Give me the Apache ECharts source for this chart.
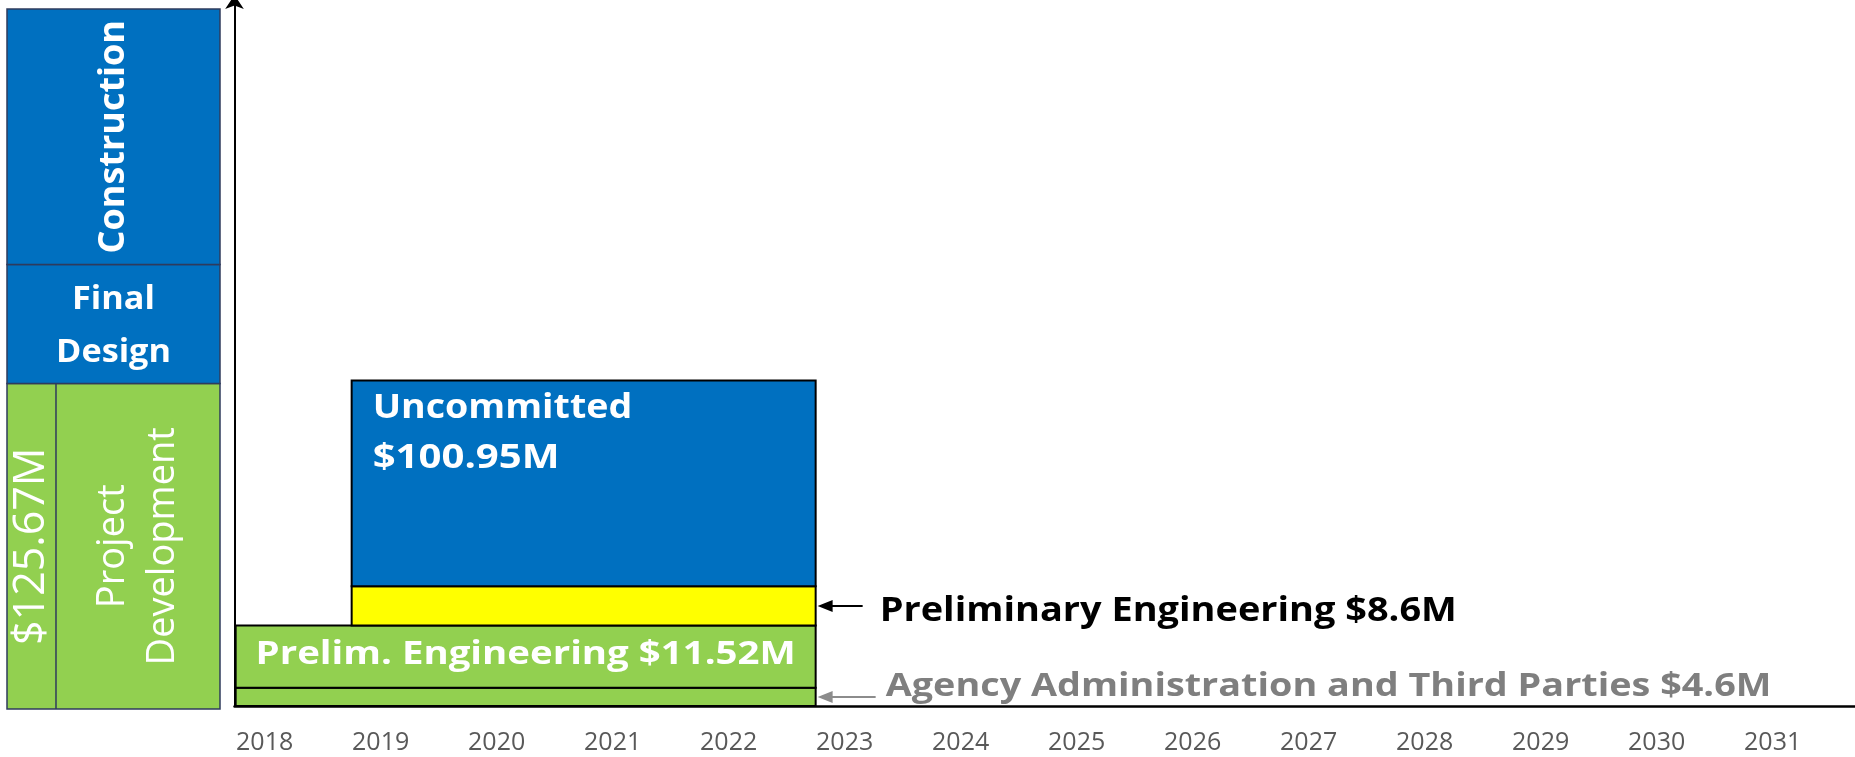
<!DOCTYPE html>
<html>
<head>
<meta charset="utf-8">
<title>Project funding timeline</title>
<script src="https://cdn.jsdelivr.net/npm/echarts@6/dist/echarts.min.js"></script>
<style>
  html, body { margin: 0; padding: 0; background: #fff; }
  #chart { width: 1855px; height: 757px; }
</style>
</head>
<body>
<div id="chart"></div>
<script>
// ---- data ----
const years = [2018, 2019, 2020, 2021, 2022, 2023, 2024, 2025, 2026, 2027, 2028, 2029, 2030, 2031];

// left phase bar (bottom to top), share of the bar height
const phaseNames = ['Project Development', 'Final Design', 'Construction'];
const phaseShares = [46.5, 17.0, 36.5];
const projectTotal = 125.67;

// funding blocks (bottom to top)
const segNames = ['Agency Administration and Third Parties', 'Prelim. Engineering', 'Preliminary Engineering', 'Uncommitted'];
const segAmounts = [4.6, 11.52, 8.6, 100.95];
const segStart = [2017.75, 2017.75, 2018.75, 2018.75];
const segEnd = [2022.75, 2022.75, 2022.75, 2022.75];
// drawn thickness of each block (the picture is schematic, not to $ scale)
const segThickness = [2.6, 8.9, 5.6, 29.4];

// ---- styles ----
const BLUE = '#0070C0', GREEN = '#92D050', YELLOW = '#FFFF00';
const segColors = [GREEN, GREEN, YELLOW, BLUE];
const phaseColors = [GREEN, BLUE, BLUE];
const FONT = '"Open Sans", "Noto Sans", sans-serif';

function txt(text, x, y, o) {
    return {
        type: 'text', x: x, y: y,
        rotation: o.rot || 0, scaleX: o.sx || 1, scaleY: o.sy || 1,
        style: {
            text: text, fill: o.fill || '#fff',
            fontSize: o.size, fontWeight: o.weight || 'bold', fontFamily: FONT,
            align: o.align || 'center', verticalAlign: 'middle',
            lineHeight: o.lh || o.size
        }
    };
}

// stack the blocks
let acc = 0;
const segData = segNames.map(function (n, i) {
    const b = acc;
    acc += segThickness[i];
    return [segStart[i], segEnd[i], b, acc];
});
let pacc = 0;
const phaseData = phaseNames.map(function (n, i) {
    const b = pacc;
    pacc += phaseShares[i];
    return [b, pacc];
});

// outside labels with arrows
const callout = {
    0: {fill: '#7F7F7F', arrow: '#8C8C8C', tail: 58, gap: 70, dy: -10, size: 33, sx: 1.145},
    2: {fill: '#000000', arrow: '#000000', tail: 45, gap: 64, dy: 5, size: 34, sx: 1.115}
};

function renderSegment(params, api) {
    const i = params.dataIndex;
    const p0 = api.coord([api.value(0), api.value(2)]);
    const p1 = api.coord([api.value(1), api.value(3)]);
    const x = p0[0], y = p1[1], w = p1[0] - p0[0], h = p0[1] - p1[1];
    const midY = y + h / 2;
    const amt = '$' + segAmounts[i] + 'M';
    const kids = [{
        type: 'rect', shape: {x: x, y: y, width: w, height: h},
        style: {fill: segColors[i], stroke: '#000', lineWidth: 2}
    }];
    if (i === 3) {
        kids.push(txt(segNames[i], x + 21, y + 28, {size: 34, align: 'left', sx: 1.105}));
        kids.push(txt(amt, x + 21, y + 78, {size: 34, align: 'left', sx: 1.18}));
    } else if (i === 1) {
        kids.push(txt(segNames[i] + ' ' + amt, x + w / 2, midY - 1.5, {size: 32, sx: 1.2}));
    } else {
        const c = callout[i];
        const tip = x + w + 2;
        kids.push({type: 'line', shape: {x1: tip + 10, y1: midY, x2: tip + c.tail, y2: midY},
            style: {stroke: c.arrow, lineWidth: 2}});
        kids.push({type: 'polygon', shape: {points: [[tip, midY], [tip + 15, midY - 6], [tip + 15, midY + 6]]},
            style: {fill: c.arrow}});
        kids.push(txt(segNames[i] + ' ' + amt, x + w + c.gap, midY + c.dy,
            {size: c.size, fill: c.fill, align: 'left', sx: c.sx}));
    }
    return {type: 'group', children: kids};
}

function renderPhase(params, api) {
    const i = params.dataIndex;
    const p0 = api.coord([0, api.value(0)]);
    const p1 = api.coord([1, api.value(1)]);
    const x = p0[0], y = p1[1], w = p1[0] - p0[0], h = p0[1] - p1[1];
    const cx = x + w / 2, cy = y + h / 2;
    const kids = [{
        type: 'rect', shape: {x: x, y: y, width: w, height: h},
        style: {fill: phaseColors[i], stroke: '#2F3B5C', lineWidth: 1.5}
    }];
    const name = phaseNames[i];
    if (i === 0) {
        const dx = api.coord([0.23, 0])[0];
        kids.push({type: 'line', shape: {x1: dx, y1: y, x2: dx, y2: y + h},
            style: {stroke: '#2F3B5C', lineWidth: 1.5}});
        kids.push(txt('$' + projectTotal + 'M', (x + dx) / 2, cy,
            {size: 43, weight: 'normal', rot: Math.PI / 2}));
        kids.push(txt(name.replace(' ', '\n'), (dx + x + w) / 2, cy,
            {size: 38, lh: 50, weight: 'normal', rot: Math.PI / 2}));
    } else if (i === 1) {
        kids.push(txt(name.replace(' ', '\n'), cx, cy + 2, {size: 32, lh: 53, sx: 1.07}));
    } else {
        kids.push(txt(name, cx, cy, {size: 36, rot: Math.PI / 2}));
    }
    return {type: 'group', children: kids};
}

const chart = echarts.init(document.getElementById('chart'));
chart.setOption({
    animation: false,
    backgroundColor: '#fff',
    grid: [
        {left: 234.5, right: 0, top: 1, bottom: 51},
        {left: 7, width: 213, top: 9, bottom: 48}
    ],
    xAxis: [
        {
            type: 'value', gridIndex: 0, min: 2017.74, max: 2031.71,
            splitLine: {show: false},
            axisTick: {show: false},
            axisLine: {show: true, lineStyle: {color: '#000', width: 2.5}},
            axisLabel: {
                customValues: years,
                formatter: function (v) { return String(v); },
                color: '#595959', fontSize: 25, fontFamily: FONT, margin: 24
            }
        },
        {type: 'value', gridIndex: 1, min: 0, max: 1, show: false}
    ],
    yAxis: [
        {
            type: 'value', gridIndex: 0, min: 0, max: 100.7,
            splitLine: {show: false},
            axisTick: {show: false},
            axisLabel: {show: false},
            axisLine: {
                show: true, symbol: ['none', 'arrow'], symbolSize: [14, 14], symbolOffset: [0, 6],
                lineStyle: {color: '#000', width: 2}
            }
        },
        {type: 'value', gridIndex: 1, min: 0, max: 100, show: false}
    ],
    series: [
        {
            type: 'custom', name: 'Funding', xAxisIndex: 0, yAxisIndex: 0,
            renderItem: renderSegment, data: segData, silent: true, z: 2
        },
        {
            type: 'custom', name: 'Phases', xAxisIndex: 1, yAxisIndex: 1,
            renderItem: renderPhase, data: phaseData, silent: true
        }
    ]
});
</script>
</body>
</html>
